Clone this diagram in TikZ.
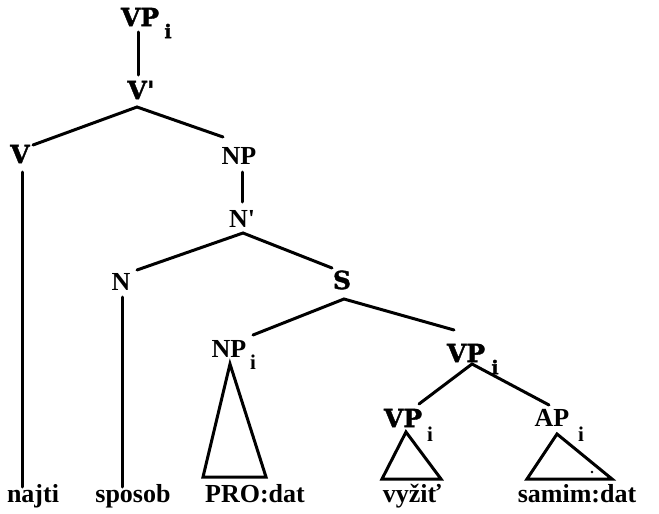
\documentclass[tikz,border=0pt]{standalone}
\usepackage{fontspec}
\newfontfamily\regfont{Liberation Serif Bold}
\newfontfamily\heavyfont[FakeBold=1.5]{DejaVu Serif Bold}
\begin{document}
\begin{tikzpicture}[x=1pt,y=-1pt,line width=3pt,
  lbl/.style={inner sep=0pt,font=\fontsize{26}{26}\regfont},
  hvy/.style={inner sep=0pt,font=\fontsize{25}{25}\heavyfont},
  subb/.style={inner sep=0pt,font=\fontsize{19}{19}\heavyfont},
  subr/.style={inner sep=0pt,font=\fontsize{21}{21}\regfont},
  word/.style={inner sep=0pt,anchor=base,font=\fontsize{26}{26}\regfont},
  edge/.style={line cap=round},
  tri/.style={line join=miter}]
\useasboundingbox (0,0) rectangle (659,514);
% labels
\node[hvy] (vptop) at (140,17) {VP};
\node[subb] (vptopi) at (168,31) {i};
\node[hvy] (vbar) at (141,90) {V'};
\node[hvy] (v) at (20,154) {V};
\node[lbl] (np) at (239,156) {NP};
\node[lbl] (nbar) at (242,219) {N'};
\node[lbl] (n) at (121,282) {N};
\node[hvy] (s) at (342,280) {S};
\node[lbl] (npi) at (229,349) {NP};
\node[subr] (npii) at (253,362) {i};
\node[hvy] (vpi) at (466,353) {VP};
\node[subb] (vpii) at (495,367) {i};
\node[hvy] (vpj) at (403,418) {VP};
\node[subr] (vpji) at (430,434) {i};
\node[lbl] (api) at (552,418) {AP};
\node[subr] (apii) at (581,434) {i};
% words
\node[word] (najti) at (33,502) {najti};
\node[word] (sposob) at (133,502) {sposob};
\node[word] (pro) at (255,502) {PRO:dat};
\node[word] (vyzit) at (412,502) {vyžiť};
\node[word] (samim) at (577,502) {samim:dat};
% branches
\draw[edge] ([shift={(-2,15)}]vptop.center) -- ([shift={(-3,-15)}]vbar.center);
\draw[edge] ([shift={(13,-9)}]v.center) -- ([shift={(-4,17)}]vbar.center) -- ([shift={(-16,-19)}]np.center);
\draw[edge] ([shift={(3,16)}]np.center) -- ([shift={(0,-17)}]nbar.center);
\draw[edge] ([shift={(16,-12)}]n.center) -- ([shift={(1,14)}]nbar.center) -- ([shift={(-10,-12)}]s.center);
\draw[edge] ([shift={(24,-14)}]npi.center) -- ([shift={(2,19)}]s.center) -- ([shift={(-12,-23)}]vpi.center);
\draw[edge] ([shift={(16,-14)}]vpj.center) -- ([shift={(6,11)}]vpi.center) -- ([shift={(-3,-13)}]api.center);
\draw[edge] ([shift={(2,18)}]v.center) -- ([shift={(-11,-15)}]najti.base);
\draw[edge] ([shift={(1,15)}]n.center) -- ([shift={(-11,-15)}]sposob.base);
% triangles
\draw[tri] ([shift={(1,15)}]npi.center) -- ([shift={(-52,-25)}]pro.base) -- ([shift={(11,-25)}]pro.base) -- cycle;
\draw[tri] ([shift={(3,14)}]vpj.center) -- ([shift={(-30,-23)}]vyzit.base) -- ([shift={(29,-23)}]vyzit.base) -- cycle;
\draw[tri] ([shift={(5,16)}]api.center) -- ([shift={(-50,-23)}]samim.base) -- ([shift={(35,-23)}]samim.base) -- cycle;
\fill ([shift={(15,-30)}]samim.base) circle (1.3);
\end{tikzpicture}
\end{document}
